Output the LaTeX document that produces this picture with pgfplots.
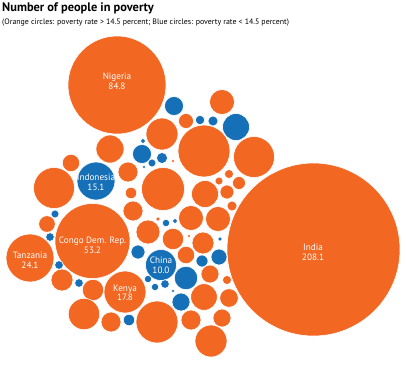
\documentclass[border=0pt]{standalone}
\usepackage{pgfplots}
\pgfplotsset{compat=1.18}
\usepackage{pgfplotstable}
\usepackage{fontspec}
\setmainfont{PT Sans}
\definecolor{myorange}{HTML}{F26722}
\definecolor{myblue}{HTML}{1670B8}
\pgfplotstableread{
x y r
117 85 49
313.5 249.5 86.5
92.5 241 37.5
30 258 24
125 292 21
186 121 7.5
162 134 16
110 149 14
71 163 8.7
128 172 10
54 188 20.5
163 189 21.5
131 193 5.7
173 161 1.7
222 102 12.5
204 151 26
254 157 20.5
229 174 4.5
219 181 4
239 183 6.5
205 194 13.5
227 192 7
232 206 5
133 211 10
47 224 8.3
148 232 12
158 219 2
191 218 12.5
218 219 12.5
173 239 10.7
189 236 1.7
203 243 11
186 255 8.7
210 274 9
227 280 4.5
62 280 11
93 290 10.7
204 297 13.3
229 298 9.3
84 314 15.7
111 322 10
157 322 21
191 320 10
222 318 9
211 341 16
}\orangedata
\pgfplotstableread{
x y r
96 181 19
161 265 15.5
174 106 9.5
200 120 4.7
213 121 5
236 127 13.5
142 154 9.5
143 141 2.3
162 158 5.5
152 163 4
144 167 1.7
55 214 4
50 237 4.3
59 265 4.3
79 283 4.3
166 223 3.7
175 221 2.3
220 239 2
138 252 7
202 261 6
219 257 8
186 278 11.7
148 279 3.7
155 287 3.7
165 284 4.3
173 291 1.7
181 302 9
129 320 5.7
}\bluedata
\tikzset{lbl/.style={font=\fontsize{9.2}{9.6}\selectfont, text=white, align=center, inner sep=0pt}}
\begin{document}
\begin{tikzpicture}
\begin{axis}[x=1pt, y=1pt, y dir=reverse, xmin=0, xmax=407, ymin=0, ymax=365,
  hide axis, clip=false, scale only axis,
  after end axis/.append code={
    \node[lbl] at (axis cs:117,81) {Nigeria\\84.8};
    \node[lbl] at (axis cs:313,252) {India\\208.1};
    \node[lbl] at (axis cs:92.5,245) {Congo Dem. Rep.\\53.2};
    \node[lbl] at (axis cs:30,260) {Tanzania\\24.1};
    \node[lbl] at (axis cs:125,293) {Kenya\\17.8};
    \node[lbl] at (axis cs:161,265) {China\\10.0};
    \node[lbl] at (axis cs:96,182) {Indonesia\\15.1};
  }]
\path (axis cs:0,0) rectangle (axis cs:407,365);
\addplot[scatter, only marks, mark=*,
  visualization depends on={\thisrow{r} \as \perpointmarksize},
  scatter/@pre marker code/.code={\scope[mark size=\perpointmarksize pt, draw=white, fill=myorange, line width=0.6pt]},
  scatter/@post marker code/.code={\endscope}] table[x=x,y=y] {\orangedata};
\addplot[scatter, only marks, mark=*,
  visualization depends on={\thisrow{r} \as \perpointmarksize},
  scatter/@pre marker code/.code={\scope[mark size=\perpointmarksize pt, draw=white, fill=myblue, line width=0.6pt]},
  scatter/@post marker code/.code={\endscope}] table[x=x,y=y] {\bluedata};
\node[anchor=north west, text=black, align=left, inner sep=0pt, font=\fontsize{12.4}{14}\selectfont\bfseries] at (axis cs:2,2) {Number of people in poverty};
\node[anchor=north west, text=black, align=left, inner sep=0pt, font=\fontsize{7.9}{9}\selectfont] at (axis cs:2,19) {(Orange circles: poverty rate > 14.5 percent; Blue circles: poverty rate < 14.5 percent)};
\end{axis}
\end{tikzpicture}
\end{document}
